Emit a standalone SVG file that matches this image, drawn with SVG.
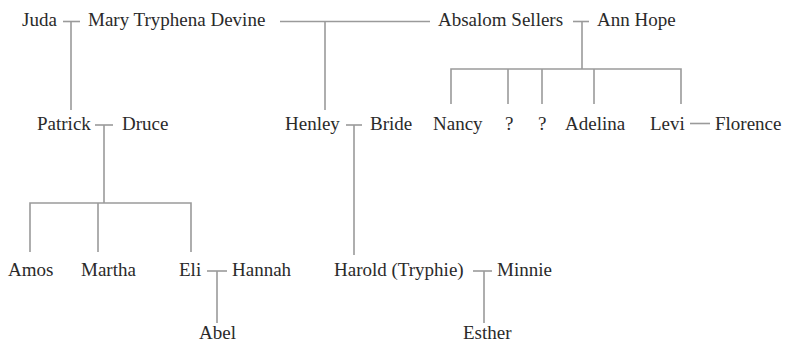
<svg xmlns="http://www.w3.org/2000/svg" width="786" height="342" viewBox="0 0 786 342">
<style>
text{font-size:19px;fill:#2a2a2a}
.c line,.c polyline{stroke:#9a9a9a;stroke-width:1.6;fill:none}
</style>
<rect width="786" height="342" fill="#fff"/>
<g class="c" id="connectors">
<line x1="63" y1="21.5" x2="80" y2="21.5"/><line x1="71" y1="21.5" x2="71" y2="110"/>
<line x1="280" y1="21.5" x2="430" y2="21.5"/><line x1="325" y1="21.5" x2="325" y2="110"/>
<line x1="573" y1="21.5" x2="589" y2="21.5"/><line x1="582" y1="21.5" x2="582" y2="69"/>
<polyline points="451,104 451,69 681,69 681,104"/>
<line x1="508" y1="69" x2="508" y2="104"/><line x1="542" y1="69" x2="542" y2="104"/><line x1="594" y1="69" x2="594" y2="104"/>
<line x1="95" y1="125" x2="113" y2="125"/><line x1="104" y1="125" x2="104" y2="203"/>
<polyline points="30,252 30,203 191,203 191,252"/><line x1="98" y1="203" x2="98" y2="252"/>
<line x1="346" y1="125" x2="362" y2="125"/><line x1="354" y1="125" x2="354" y2="255"/>
<line x1="690" y1="123.5" x2="710" y2="123.5"/>
<line x1="207" y1="271" x2="227" y2="271"/><line x1="217" y1="271" x2="217" y2="323"/>
<line x1="473" y1="271" x2="492" y2="271"/><line x1="484" y1="271" x2="484" y2="323"/>
</g>
<g font-family="Liberation Serif, DejaVu Serif, serif">
<g id="juda"><text x="22" y="26">Juda</text></g>
<g id="mary"><text x="88" y="26">Mary Tryphena Devine</text></g>
<g id="absalom"><text x="438" y="26">Absalom Sellers</text></g>
<g id="annhope"><text x="597" y="26">Ann Hope</text></g>
<g id="patrick"><text x="37" y="130">Patrick</text></g>
<g id="druce"><text x="122" y="130">Druce</text></g>
<g id="henley"><text x="285" y="130">Henley</text></g>
<g id="bride"><text x="370" y="130">Bride</text></g>
<g id="nancy"><text x="433" y="130">Nancy</text></g>
<g id="q1"><text x="505" y="130">?</text></g>
<g id="q2"><text x="538" y="130">?</text></g>
<g id="adelina"><text x="565" y="130">Adelina</text></g>
<g id="levi"><text x="650" y="130">Levi</text></g>
<g id="florence"><text x="715" y="130">Florence</text></g>
<g id="amos"><text x="8" y="276">Amos</text></g>
<g id="martha"><text x="81" y="276">Martha</text></g>
<g id="eli"><text x="179" y="276">Eli</text></g>
<g id="hannah"><text x="232" y="276">Hannah</text></g>
<g id="harold"><text x="334" y="276">Harold (Tryphie)</text></g>
<g id="minnie"><text x="497" y="276">Minnie</text></g>
<g id="abel"><text x="199" y="339">Abel</text></g>
<g id="esther"><text x="463" y="339">Esther</text></g>
</g>
</svg>
